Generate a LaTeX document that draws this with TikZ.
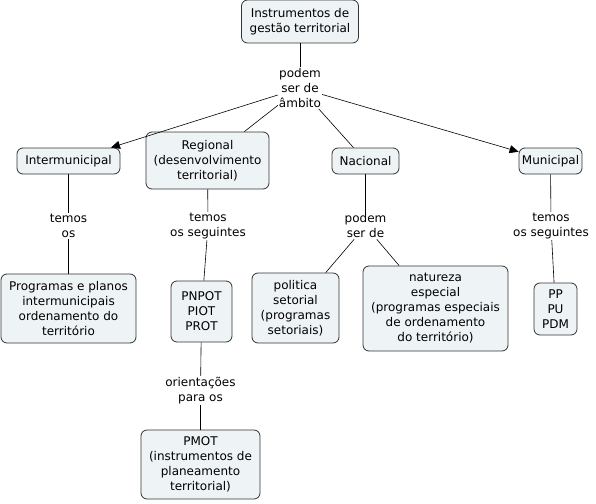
\documentclass[tikz,border=0pt]{standalone}
\usepackage{fontspec}
\setmainfont{DejaVu Sans}
\usepackage{xcolor}
\usetikzlibrary{arrows.meta, positioning}

\definecolor{boxfill}{HTML}{EEF3F5}
\definecolor{boxline}{HTML}{333333}

\begin{document}
\begin{tikzpicture}[x=1pt, y=-1pt,
    concept/.style={draw=boxline, fill=boxfill, rounded corners=6pt, line width=0.8pt,
        align=center, inner sep=0pt, font=\fontsize{12}{15}\selectfont},
    linkword/.style={align=center, inner sep=1pt, fill=white, font=\fontsize{12}{15}\selectfont},
    link/.style={draw=black, line width=0.6pt},
    arrowlink/.style={link, -{Triangle[length=9pt, width=8pt]}}]
        \useasboundingbox (0,0) rectangle (596,503);

        % conceitos
        \node[concept, minimum width=117pt, minimum height=43pt] (instr) at (300,21.5) {Instrumentos de\\gestão territorial};
        \node[concept, minimum width=103pt, minimum height=26pt] (inter) at (68.5,161) {Intermunicipal};
        \node[concept, minimum width=123pt, minimum height=57pt] (reg) at (207.5,160.5) {Regional\\(desenvolvimento\\territorial)};
        \node[concept, minimum width=67pt, minimum height=26pt] (nac) at (365.5,161) {Nacional};
        \node[concept, minimum width=63pt, minimum height=26pt] (mun) at (550.5,161) {Municipal};
        \node[concept, minimum width=135pt, minimum height=69pt] (progr) at (68.5,308.5) {Programas e planos\\intermunicipais\\ordenamento do\\território};
        \node[concept, minimum width=61pt, minimum height=61pt] (pnpot) at (201.5,311.5) {PNPOT\\PIOT\\PROT};
        \node[concept, minimum width=87pt, minimum height=70pt] (polit) at (295.5,308) {politica\\setorial\\(programas\\setoriais)};
        \node[concept, minimum width=145pt, minimum height=85pt] (natur) at (435.5,308.5) {natureza\\especial\\(programas especiais\\de ordenamento\\do território)};
        \node[concept, minimum width=43pt, minimum height=52pt] (pp) at (555.5,309) {PP\\PU\\PDM};
        \node[concept, minimum width=119pt, minimum height=69pt] (pmot) at (200.5,464.5) {PMOT\\(instrumentos de\\planeamento\\territorial)};

        % frases de ligacao
        \node[linkword] (ambito) at (300,88) {podem\\ser de\\âmbito};
        \node[linkword] (temos1) at (68.5,226) {temos\\os};
        \node[linkword] (temos2) at (208,226) {temos\\os seguintes};
        \node[linkword] (serde) at (365.5,226) {podem\\ser de};
        \node[linkword] (temos3) at (551,226) {temos\\os seguintes};
        \node[linkword] (orient) at (200.5,390.5) {orientações\\para os};

        % ligacoes
        \draw[link] (instr) -- (ambito);
        \draw[arrowlink] (ambito) -- (inter);
        \draw[link] (ambito) -- (reg);
        \draw[link] (ambito) -- (nac);
        \draw[arrowlink] (ambito) -- (mun);

        \draw[link] (inter) -- (temos1);
        \draw[link] (temos1) -- (progr);
        \draw[link] (reg) -- (temos2);
        \draw[link] (temos2) -- (pnpot);
        \draw[link] (pnpot) -- (orient);
        \draw[link] (orient) -- (pmot);
        \draw[link] (nac) -- (serde);
        \draw[link] (serde) -- (polit);
        \draw[link] (serde) -- (natur);
        \draw[link] (mun) -- (temos3);
        \draw[link] (temos3) -- (pp);
\end{tikzpicture}
\end{document}
